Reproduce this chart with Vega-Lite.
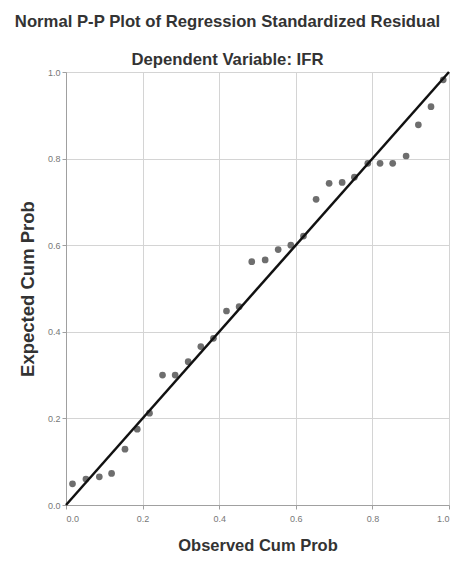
{
  "$schema": "https://vega.github.io/schema/vega-lite/v6.json",
  "autosize": "none",
  "width": 383,
  "height": 433,
  "padding": {"left": 66, "top": 72, "right": 5, "bottom": 58},
  "background": "white",
  "title": {
    "text": "Normal P-P Plot of Regression Standardized Residual",
    "subtitle": "Dependent Variable: IFR",
    "anchor": "middle",
    "frame": "group",
    "dx": -30,
    "offset": -2,
    "font": "Liberation Sans",
    "fontSize": 16.7,
    "fontWeight": "bold",
    "color": "#333333",
    "subtitleFont": "Liberation Sans",
    "subtitleFontSize": 16.7,
    "subtitleFontWeight": "bold",
    "subtitleColor": "#333333",
    "subtitlePadding": 22
  },
  "config": {
    "view": {"stroke": "#d4d4d4", "strokeWidth": 1},
    "axis": {
      "gridColor": "#d4d4d4",
      "gridWidth": 1,
      "domainColor": "#a0a0a0",
      "tickColor": "#a0a0a0",
      "tickSize": 4,
      "labelFont": "Liberation Sans",
      "labelFontSize": 9,
      "labelColor": "#777777",
      "titleFont": "Liberation Sans",
      "titleFontWeight": "bold",
      "titleColor": "#333333"
    }
  },
  "data": {
    "values": [
      {"obs": 0.017, "exp": 0.049},
      {"obs": 0.052, "exp": 0.060},
      {"obs": 0.087, "exp": 0.065},
      {"obs": 0.119, "exp": 0.073},
      {"obs": 0.154, "exp": 0.129},
      {"obs": 0.186, "exp": 0.175},
      {"obs": 0.218, "exp": 0.212},
      {"obs": 0.252, "exp": 0.300},
      {"obs": 0.285, "exp": 0.300},
      {"obs": 0.319, "exp": 0.331},
      {"obs": 0.352, "exp": 0.366},
      {"obs": 0.385, "exp": 0.385},
      {"obs": 0.419, "exp": 0.448},
      {"obs": 0.452, "exp": 0.458},
      {"obs": 0.485, "exp": 0.562},
      {"obs": 0.520, "exp": 0.566},
      {"obs": 0.554, "exp": 0.590},
      {"obs": 0.587, "exp": 0.600},
      {"obs": 0.620, "exp": 0.621},
      {"obs": 0.653, "exp": 0.706},
      {"obs": 0.687, "exp": 0.743},
      {"obs": 0.721, "exp": 0.745},
      {"obs": 0.753, "exp": 0.757},
      {"obs": 0.788, "exp": 0.789},
      {"obs": 0.820, "exp": 0.789},
      {"obs": 0.853, "exp": 0.789},
      {"obs": 0.888, "exp": 0.806},
      {"obs": 0.920, "exp": 0.878},
      {"obs": 0.953, "exp": 0.920},
      {"obs": 0.985, "exp": 0.982}
    ]
  },
  "layer": [
    {
      "mark": {"type": "circle", "size": 45, "color": "#6e6e6e", "opacity": 1},
      "encoding": {
        "x": {
          "field": "obs", "type": "quantitative",
          "scale": {"domain": [0, 1], "nice": false},
          "axis": {"values": [0, 0.2, 0.4, 0.6, 0.8, 1.0], "format": ".1f", "title": "Observed Cum Prob", "titleFontSize": 16.5, "titlePadding": 14, "labelPadding": 5}
        },
        "y": {
          "field": "exp", "type": "quantitative",
          "scale": {"domain": [0, 1], "nice": false},
          "axis": {"values": [0, 0.2, 0.4, 0.6, 0.8, 1.0], "format": ".1f", "title": "Expected Cum Prob", "titleFontSize": 18.5, "titlePadding": 10, "labelPadding": 2}
        }
      }
    },
    {
      "data": {"values": [{"obs": 0, "exp": 0}, {"obs": 1, "exp": 1}]},
      "mark": {"type": "line", "color": "#111111", "strokeWidth": 2.5},
      "encoding": {
        "x": {"field": "obs", "type": "quantitative"},
        "y": {"field": "exp", "type": "quantitative"}
      }
    }
  ]
}
